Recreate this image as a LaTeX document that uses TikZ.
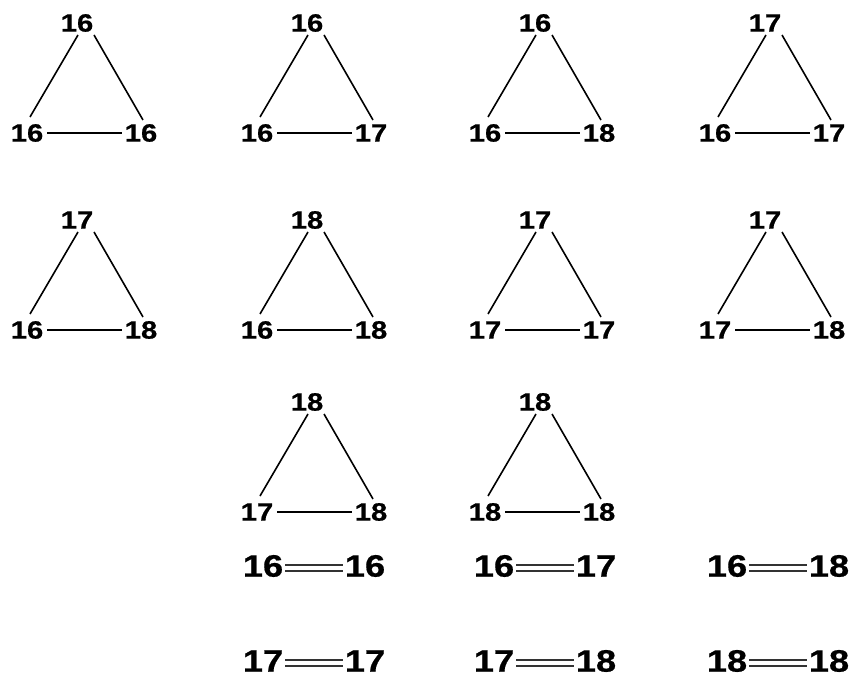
\documentclass[tikz,border=0pt]{standalone}
\usepackage{fontspec}
\newfontfamily\labfont{Liberation Sans}[FakeStretch=1.17,FakeBold=0.6]
\usetikzlibrary{calc}
\tikzset{
  atom/.style={inner sep=0pt, font=\labfont\bfseries\fontsize{25}{27}\selectfont},
  bigatom/.style={inner sep=0pt, font=\labfont\bfseries\fontsize{31}{33}\selectfont},
  bond/.style={line width=1.6pt, black},
  dbond/.style={line width=2.1pt, double=white, double distance=3.4pt, draw=black!80}
}
\newcommand{\ozone}[6]{%
  \begin{scope}[shift={(#1,#2)}]
    \node[atom] (t#6) at (77,23) {#3};
    \node[atom] (l#6) at (27,133) {#4};
    \node[atom] (r#6) at (141,133) {#5};
  \end{scope}
  \draw[bond] ($(t#6)+(1,12)$) -- ($(l#6)+(3,-16)$);
  \draw[bond] ($(t#6)+(17,12)$) -- ($(r#6)+(2,-13)$);
  \draw[bond] ($(l#6)+(20,0)$) -- ($(r#6)+(-19,0)$);
}
\newcommand{\dioxy}[5]{%
  \begin{scope}[shift={(#1,#2)}]
    \node[bigatom] (a#5) at (263,0) {#3};
    \node[bigatom] (b#5) at (365,0) {#4};
  \end{scope}
  \draw[dbond] ($(a#5)+(22,2)$) -- ($(b#5)+(-22,2)$);
}
\begin{document}
\begin{tikzpicture}[x=1pt,y=-1pt]
\useasboundingbox[fill=white] (0,0) rectangle (852,687);
% row 1
\ozone{0}{0}{16}{16}{16}{1}
\ozone{230}{0}{16}{16}{17}{2}
\ozone{458}{0}{16}{16}{18}{3}
\ozone{688}{0}{17}{16}{17}{4}
% row 2
\ozone{0}{197}{17}{16}{18}{5}
\ozone{230}{197}{18}{16}{18}{6}
\ozone{458}{197}{17}{17}{17}{7}
\ozone{688}{197}{17}{17}{18}{8}
% row 3
\ozone{230}{379}{18}{17}{18}{9}
\ozone{458}{379}{18}{18}{18}{10}
% O2 molecules
\dioxy{0}{566}{16}{16}{11}
\dioxy{231}{566}{16}{17}{12}
\dioxy{464}{566}{16}{18}{13}
\dioxy{0}{661}{17}{17}{14}
\dioxy{231}{661}{17}{18}{15}
\dioxy{464}{661}{18}{18}{16}
\end{tikzpicture}
\end{document}
